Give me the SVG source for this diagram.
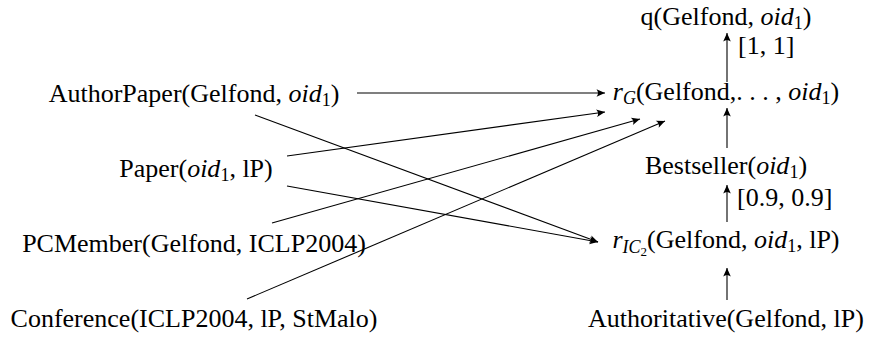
<svg xmlns="http://www.w3.org/2000/svg" width="870" height="337" viewBox="0 0 870 337">
<defs>
<style>
text{font-family:"Liberation Serif","Times New Roman",serif;font-size:26px;fill:#000}
.it{font-style:italic}
.sub{font-size:18px}
.sub2{font-size:13px}
.c{fill:none;stroke:#000;stroke-width:1.1}
</style>
<marker id="ah" viewBox="-9 -5 10 10" markerUnits="userSpaceOnUse" markerWidth="10" markerHeight="10" refX="0" refY="0" orient="auto">
<path d="M0,0 L-8.5,-3.8 Q-5.5,0 -8.5,3.8 Z" fill="#000"/>
</marker>
</defs>
<rect width="870" height="337" fill="#fff"/>
<g id="q"><text x="726" y="25" text-anchor="middle">q(Gelfond, <tspan class="it">oid</tspan><tspan class="sub" dy="4">1</tspan><tspan dy="-4">)</tspan></text></g>
<g id="rG"><text x="726" y="100" text-anchor="middle"><tspan class="it">r</tspan><tspan class="it sub" dy="4">G</tspan><tspan dy="-4">(Gelfond,. . . , </tspan><tspan class="it">oid</tspan><tspan class="sub" dy="4">1</tspan><tspan dy="-4">)</tspan></text></g>
<g id="bestseller"><text x="726" y="174" text-anchor="middle">Bestseller(<tspan class="it">oid</tspan><tspan class="sub" dy="4">1</tspan><tspan dy="-4">)</tspan></text></g>
<g id="ric2"><text x="726" y="248" text-anchor="middle"><tspan class="it">r</tspan><tspan class="it sub" dy="5">IC</tspan><tspan class="sub2" dy="3">2</tspan><tspan dy="-8">(Gelfond, </tspan><tspan class="it">oid</tspan><tspan class="sub" dy="4">1</tspan><tspan dy="-4">, lP)</tspan></text></g>
<g id="authoritative"><text x="726" y="327" text-anchor="middle">Authoritative(Gelfond, lP)</text></g>
<g id="authorpaper"><text x="194" y="102" text-anchor="middle">AuthorPaper(Gelfond, <tspan class="it">oid</tspan><tspan class="sub" dy="4">1</tspan><tspan dy="-4">)</tspan></text></g>
<g id="paper"><text x="196" y="177" text-anchor="middle">Paper(<tspan class="it">oid</tspan><tspan class="sub" dy="4">1</tspan><tspan dy="-4">, lP)</tspan></text></g>
<g id="pcmember"><text x="194" y="252" text-anchor="middle">PCMember(Gelfond, ICLP2004)</text></g>
<g id="conference"><text x="194" y="327" text-anchor="middle">Conference(ICLP2004, lP, StMalo)</text></g>
<g id="labels">
<text x="738" y="54">[1, 1]</text>
<text x="737" y="206">[0.9, 0.9]</text>
</g>
<g id="connectors">
<line class="c" x1="357" y1="93" x2="605" y2="93" marker-end="url(#ah)"/>
<line class="c" x1="287" y1="156" x2="605" y2="112" marker-end="url(#ah)"/>
<line class="c" x1="255" y1="115" x2="598" y2="242" marker-end="url(#ah)"/>
<line class="c" x1="287" y1="186" x2="598" y2="242" marker-end="url(#ah)"/>
<line class="c" x1="272" y1="223" x2="640" y2="119" marker-end="url(#ah)"/>
<line class="c" x1="247" y1="299" x2="665" y2="121" marker-end="url(#ah)"/>
<line class="c" x1="727" y1="82" x2="727" y2="33" marker-end="url(#ah)"/>
<line class="c" x1="727" y1="148" x2="727" y2="108" marker-end="url(#ah)"/>
<line class="c" x1="727" y1="222" x2="727" y2="185" marker-end="url(#ah)"/>
<line class="c" x1="727" y1="300" x2="727" y2="268" marker-end="url(#ah)"/>
</g>
</svg>
